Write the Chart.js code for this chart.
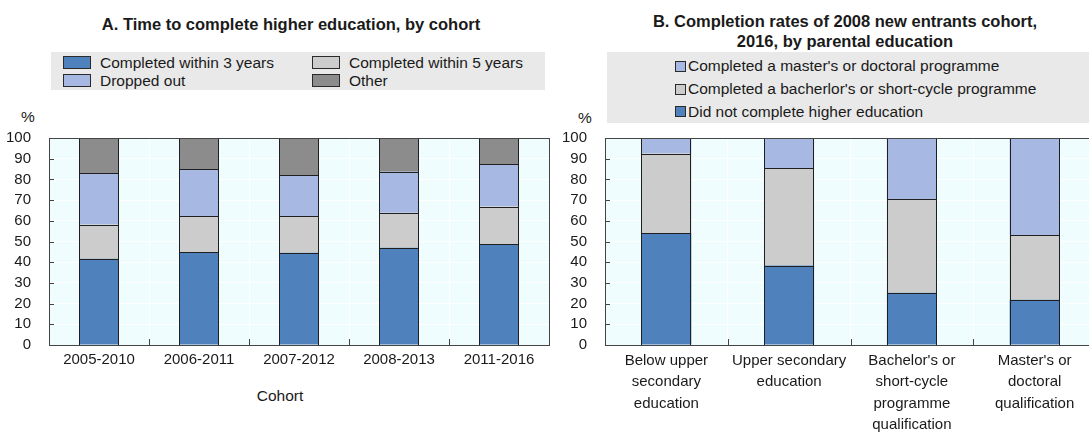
<!DOCTYPE html>
<html><head><meta charset="utf-8">
<script src="https://cdn.jsdelivr.net/npm/chart.js@4.4.1/dist/chart.umd.min.js"></script>
<style>
html,body{margin:0;padding:0;width:1089px;height:434px;overflow:hidden;background:#fff;font-family:"Liberation Sans",Arial,sans-serif;color:#1a1a1a;position:relative;}
.abs{position:absolute;white-space:nowrap;}
.title{font-weight:bold;font-size:16.5px;line-height:20px;text-align:center;}
.band{background:#e9e9e9;}
.lbl{font-size:15.5px;line-height:18px;}
.box{position:absolute;box-sizing:border-box;border:1px solid #2a2a2a;}
canvas{display:block;}
</style>
</head><body>

<div class="abs title" style="left:0;top:14px;width:582px;">A. Time to complete higher education, by cohort</div>
<div class="abs title" style="left:545px;top:11px;width:600px;">B. Completion rates of 2008 new entrants cohort,<br>2016, by parental education</div>

<div class="abs band" style="left:51px;top:52px;width:494px;height:38px;"></div>
<div class="abs band" style="left:607px;top:52px;width:482px;height:71px;"></div>
<div id="legA"></div>
<div id="legB"></div>

<div class="abs lbl" style="left:21px;top:108px;">%</div>
<div class="abs lbl" style="left:578px;top:109px;">%</div>
<div class="abs lbl" style="left:230px;top:387px;width:100px;text-align:center;">Cohort</div>

<div class="abs" style="left:0;top:0;width:560px;height:434px;"><canvas id="cA" width="560" height="434"></canvas></div>
<div class="abs" style="left:545px;top:0;width:560px;height:434px;"><canvas id="cB" width="560" height="434"></canvas></div>

<script>
// ---------- data ----------
const cohorts = ['2005-2010', '2006-2011', '2007-2012', '2008-2013', '2011-2016'];
const completedWithin3 = [41.7, 44.7, 44.6, 47.0, 48.8];
const completedWithin5 = [16.5, 17.5, 17.6, 16.9, 18.1];
const droppedOut = [24.9, 22.6, 19.7, 19.8, 20.3];
const otherOutcome = [16.9, 15.2, 18.1, 16.3, 12.8];

const parentalEducation = [
  ['Below upper', 'secondary', 'education'],
  ['Upper secondary', 'education'],
  ["Bachelor's or", 'short-cycle', 'programme', 'qualification'],
  ["Master's or", 'doctoral', 'qualification']
];
const didNotComplete = [54.1, 38.4, 25.3, 21.9];
const completedBachelorShort = [38.4, 47.0, 45.1, 31.1];
const completedMasterDoctoral = [7.5, 14.6, 29.6, 47.0];

const yMin = 0, yMax = 100, yStep = 10;

const labelsA = ['Completed within 3 years', 'Completed within 5 years', 'Dropped out', 'Other'];
const labelsB = ["Completed a master's or doctoral programme", "Completed a bacherlor's or short-cycle programme", 'Did not complete higher education'];

// ---------- styles ----------
const DARK_BLUE = '#4f81bd', LIGHT_GREY = '#cccccc', LIGHT_BLUE = '#a7b9e3', DARK_GREY = '#8c8c8c';
const PLOT_BG = '#f0fdff', FRAME = '#444444', BAR_BORDER = '#1f1f1f', TEXT = '#1a1a1a';

Chart.defaults.font.family = "'Liberation Sans', Arial, sans-serif";
Chart.defaults.font.size = 15;
Chart.defaults.color = TEXT;

const framePlugin = {
  id: 'frame',
  beforeDraw(chart) {
    const { ctx, chartArea: a } = chart;
    ctx.save();
    ctx.fillStyle = PLOT_BG;
    ctx.fillRect(a.left, a.top, a.width, a.height);
    ctx.restore();
  },
  afterDatasetsDraw(chart) {
    const ctx = chart.ctx;
    ctx.save();
    ctx.strokeStyle = BAR_BORDER;
    ctx.lineWidth = 1;
    chart.data.datasets.forEach((d, di) => {
      chart.getDatasetMeta(di).data.forEach(el => {
        const p = el.getProps(['x', 'y', 'base', 'width'], true);
        const l = Math.round(p.x - p.width / 2), r = Math.round(p.x + p.width / 2);
        const t = Math.round(Math.min(p.y, p.base)), b = Math.round(Math.max(p.y, p.base));
        ctx.strokeRect(l + 0.5, t + 0.5, r - l - 1, b - t);
      });
    });
    ctx.restore();
  },
  afterDraw(chart) {
    const { ctx, chartArea: a, scales } = chart;
    ctx.save();
    ctx.strokeStyle = FRAME;
    ctx.lineWidth = 1;
    ctx.beginPath();
    for (let v = yMin + yStep; v < yMax; v += yStep) {
      const py = Math.round(scales.y.getPixelForValue(v)) + 0.5;
      ctx.moveTo(a.left, py); ctx.lineTo(a.left + 5, py);
    }
    const n = chart.data.labels.length;
    for (let i = 1; i < n; i++) {
      const px = Math.round(scales.x.getPixelForValue(i - 0.5)) + 0.5;
      ctx.moveTo(px, a.bottom); ctx.lineTo(px, a.bottom - 6);
    }
    ctx.stroke();
    ctx.strokeRect(Math.round(a.left) + 0.5, Math.round(a.top) + 0.5, Math.round(a.width), Math.round(a.height));
    ctx.restore();
  }
};

function ds(label, data, color, barPct) {
  return { label, data, backgroundColor: color, borderWidth: 0, inflateAmount: 0,
           barPercentage: barPct, categoryPercentage: 1 };
}

function makeOptions(yWidth, rightPad, xPad, lineH) {
  return {
    responsive: false, animation: false,
    layout: { padding: { top: 138, right: rightPad, left: 0, bottom: 0 } },
    plugins: { legend: { display: false }, tooltip: { enabled: false }, title: { display: false } },
    scales: {
      x: {
        stacked: true,
        grid: { offset: true, color: '#ffffff', drawTicks: false },
        border: { display: false },
        ticks: { padding: xPad, maxRotation: 0, autoSkip: false, color: TEXT,
                 font: { size: 15, lineHeight: lineH } },
        afterFit(s) { s.height = 89; }
      },
      y: {
        stacked: true, min: yMin, max: yMax,
        grid: { color: '#ffffff', drawTicks: false },
        border: { display: false },
        ticks: { stepSize: yStep, autoSkip: false, padding: 18, color: TEXT, font: { size: 15 } },
        afterFit(s) { s.width = yWidth; }
      }
    }
  };
}

const chartA = new Chart(document.getElementById('cA'), {
  type: 'bar',
  data: {
    labels: cohorts,
    datasets: [
      ds(labelsA[0], completedWithin3, DARK_BLUE, 0.397),
      ds(labelsA[1], completedWithin5, LIGHT_GREY, 0.397),
      ds(labelsA[2], droppedOut, LIGHT_BLUE, 0.397),
      ds(labelsA[3], otherOutcome, DARK_GREY, 0.397)
    ]
  },
  options: makeOptions(49, 11, 6, 1.2),
  plugins: [framePlugin]
});

const chartB = new Chart(document.getElementById('cB'), {
  type: 'bar',
  data: {
    labels: parentalEducation,
    datasets: [
      ds(labelsB[2], didNotComplete, DARK_BLUE, 0.407),
      ds(labelsB[1], completedBachelorShort, LIGHT_GREY, 0.407),
      ds(labelsB[0], completedMasterDoctoral, LIGHT_BLUE, 0.407)
    ]
  },
  options: makeOptions(60, 9, 5, 1.43),
  plugins: [framePlugin]
});

// ---------- legends (HTML, built from datasets) ----------
function addItem(host, text, color, bx, by, bw, bh, tx, ty) {
  const b = document.createElement('div');
  b.className = 'box';
  b.style.cssText += `left:${bx}px;top:${by}px;width:${bw}px;height:${bh}px;background:${color};`;
  host.appendChild(b);
  const t = document.createElement('div');
  t.className = 'abs lbl';
  t.style.cssText += `left:${tx}px;top:${ty - 9}px;`;
  t.textContent = text;
  host.appendChild(t);
}
(function () {
  const host = document.getElementById('legA');
  const d = chartA.data.datasets;
  const pos = [[63, 56, 100, 62.5], [312, 56, 349, 62.5], [63, 74, 100, 80.5], [312, 74, 349, 80.5]];
  d.forEach((s, i) => addItem(host, s.label, s.backgroundColor, pos[i][0], pos[i][1], 28, 13, pos[i][2], pos[i][3]));
})();
(function () {
  const host = document.getElementById('legB');
  const d = chartB.data.datasets.slice().reverse();
  const rows = [66, 89, 111.5];
  d.forEach((s, i) => addItem(host, s.label, s.backgroundColor, 675, rows[i] - 5.5, 11, 11, 688, rows[i]));
})();
</script>
</body></html>
